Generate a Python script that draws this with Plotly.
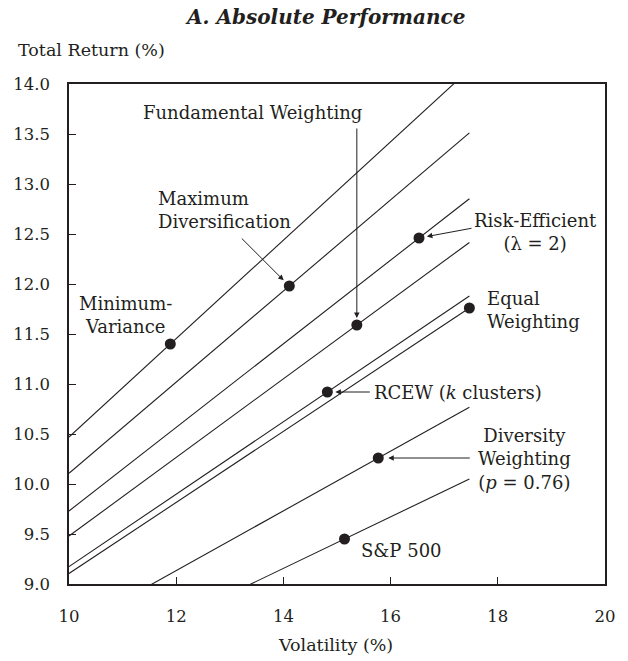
import plotly.graph_objects as go

# ---------------- data ----------------
STRATEGIES = [
    "Minimum-Variance",
    "Maximum Diversification",
    "Risk-Efficient (λ = 2)",
    "Fundamental Weighting",
    "Equal Weighting",
    "RCEW (k clusters)",
    "Diversity Weighting (p = 0.76)",
    "S&P 500",
]
VOLATILITY = [11.89, 14.11, 16.53, 15.37, 17.47, 14.82, 15.77, 15.14]
TOTAL_RETURN = [11.40, 11.98, 12.46, 11.59, 11.76, 10.92, 10.26, 9.45]
RISK_FREE = 5.55          # common origin of the Sharpe-ratio lines
LINE_X_START = 10.0
LINE_X_END = 17.47

X_TICKS = [10, 12, 14, 16, 18, 20]
Y_TICKS = [9.0, 9.5, 10.0, 10.5, 11.0, 11.5, 12.0, 12.5, 13.0, 13.5, 14.0]
X_RANGE = [10, 20]
Y_RANGE = [9.0, 14.0]

# ---------------- geometry helpers ----------------
W, H = 628, 661
PX_L, PX_R, PX_T, PX_B = 69, 608, 84, 584
FONT = "DejaVu Serif"
INK = "#231f20"


def dx(px):
    return X_RANGE[0] + (px - PX_L) / (PX_R - PX_L) * (X_RANGE[1] - X_RANGE[0])


def dy(py):
    return Y_RANGE[1] - (py - PX_T) / (PX_B - PX_T) * (Y_RANGE[1] - Y_RANGE[0])


def paper_x(px):
    return (px - PX_L) / (PX_R - PX_L)


def paper_y(py):
    return (PX_B - py) / (PX_B - PX_T)


fig = go.Figure()

# Sharpe-ratio lines through each strategy
for name, v, r in zip(STRATEGIES, VOLATILITY, TOTAL_RETURN):
    slope = (r - RISK_FREE) / v
    xs = [LINE_X_START, LINE_X_END]
    ys = [RISK_FREE + slope * x for x in xs]
    fig.add_trace(go.Scatter(x=xs, y=ys, mode="lines",
                             line=dict(color=INK, width=1.1),
                             hoverinfo="skip", showlegend=False))

fig.add_trace(go.Scatter(x=VOLATILITY, y=TOTAL_RETURN, mode="markers",
                         marker=dict(color=INK, size=11),
                         text=STRATEGIES, showlegend=False))

annotations = []

# text labels (pixel anchors)
LABELS = [
    ("Fundamental Weighting", 254, 112, "center", "center"),
    ("Maximum<br>Diversification", 156, 210, "left", "left"),
    ("Minimum-<br>Variance", 126, 315, "center", "center"),
    ("Risk-Efficient<br>(λ = 2)", 538, 232, "center", "center"),
    ("Equal<br>Weighting", 487, 310, "left", "left"),
    ("RCEW (<i>k</i> clusters)", 374, 392, "left", "left"),
    ("Diversity<br>Weighting<br>(<i>p</i> = 0.76)", 527, 459, "center", "center"),
    ("S&P 500", 361, 550, "left", "left"),
]
for text, px, py, xa, al in LABELS:
    annotations.append(dict(text=text, x=dx(px), y=dy(py), xref="x", yref="y",
                            xanchor=xa, yanchor="middle", align=al, showarrow=False,
                            font=dict(family=FONT, size=18, color=INK)))

# arrows: (strategy index, ax, ay, standoff)
ARROWS = [
    (3, 0, -198, 7),
    (1, -49, -49, 8),
    (2, 54, -10, 8),
    (5, 44, 0, 8),
    (6, 93, 0, 10),
]
for i, ax, ay, so in ARROWS:
    annotations.append(dict(text="", x=VOLATILITY[i], y=TOTAL_RETURN[i], xref="x", yref="y",
                            ax=ax, ay=ay, showarrow=True, arrowhead=2, arrowsize=1.1,
                            arrowwidth=1, arrowcolor=INK, standoff=so))

# title and axis titles
annotations.append(dict(text="<b><i>A. Absolute Performance</i></b>", x=paper_x(326), y=paper_y(17),
                        xref="paper", yref="paper", xanchor="center", yanchor="middle",
                        showarrow=False, font=dict(family=FONT, size=20, color=INK)))
annotations.append(dict(text="Total Return (%)", x=paper_x(16), y=paper_y(50),
                        xref="paper", yref="paper", xanchor="left", yanchor="middle",
                        showarrow=False, font=dict(family=FONT, size=17.5, color=INK)))
annotations.append(dict(text="Volatility (%)", x=paper_x(337), y=paper_y(645),
                        xref="paper", yref="paper", xanchor="center", yanchor="middle",
                        showarrow=False, font=dict(family=FONT, size=17.5, color=INK)))

axis_common = dict(showline=True, linecolor=INK, linewidth=1.5, mirror=True,
                   ticks="inside", ticklen=7, tickwidth=1.2, tickcolor=INK,
                   showgrid=False, zeroline=False,
                   tickfont=dict(family=FONT, size=16.5, color=INK))

fig.update_layout(
    width=W, height=H,
    margin=dict(l=PX_L, r=W - PX_R, t=PX_T, b=H - PX_B),
    paper_bgcolor="white", plot_bgcolor="white",
    xaxis=dict(range=X_RANGE, tickmode="array", tickvals=X_TICKS,
               ticktext=[str(t) for t in X_TICKS], ticklabelstandoff=16, **axis_common),
    yaxis=dict(range=Y_RANGE, tickmode="array", tickvals=Y_TICKS,
               ticktext=[f"{t:.1f}" for t in Y_TICKS], ticklabelstandoff=14, **axis_common),
    annotations=annotations,
    showlegend=False,
)

fig.write_html("out.html", config={"displayModeBar": False},
               post_script="document.body.style.margin='0';document.body.style.padding='0';")
